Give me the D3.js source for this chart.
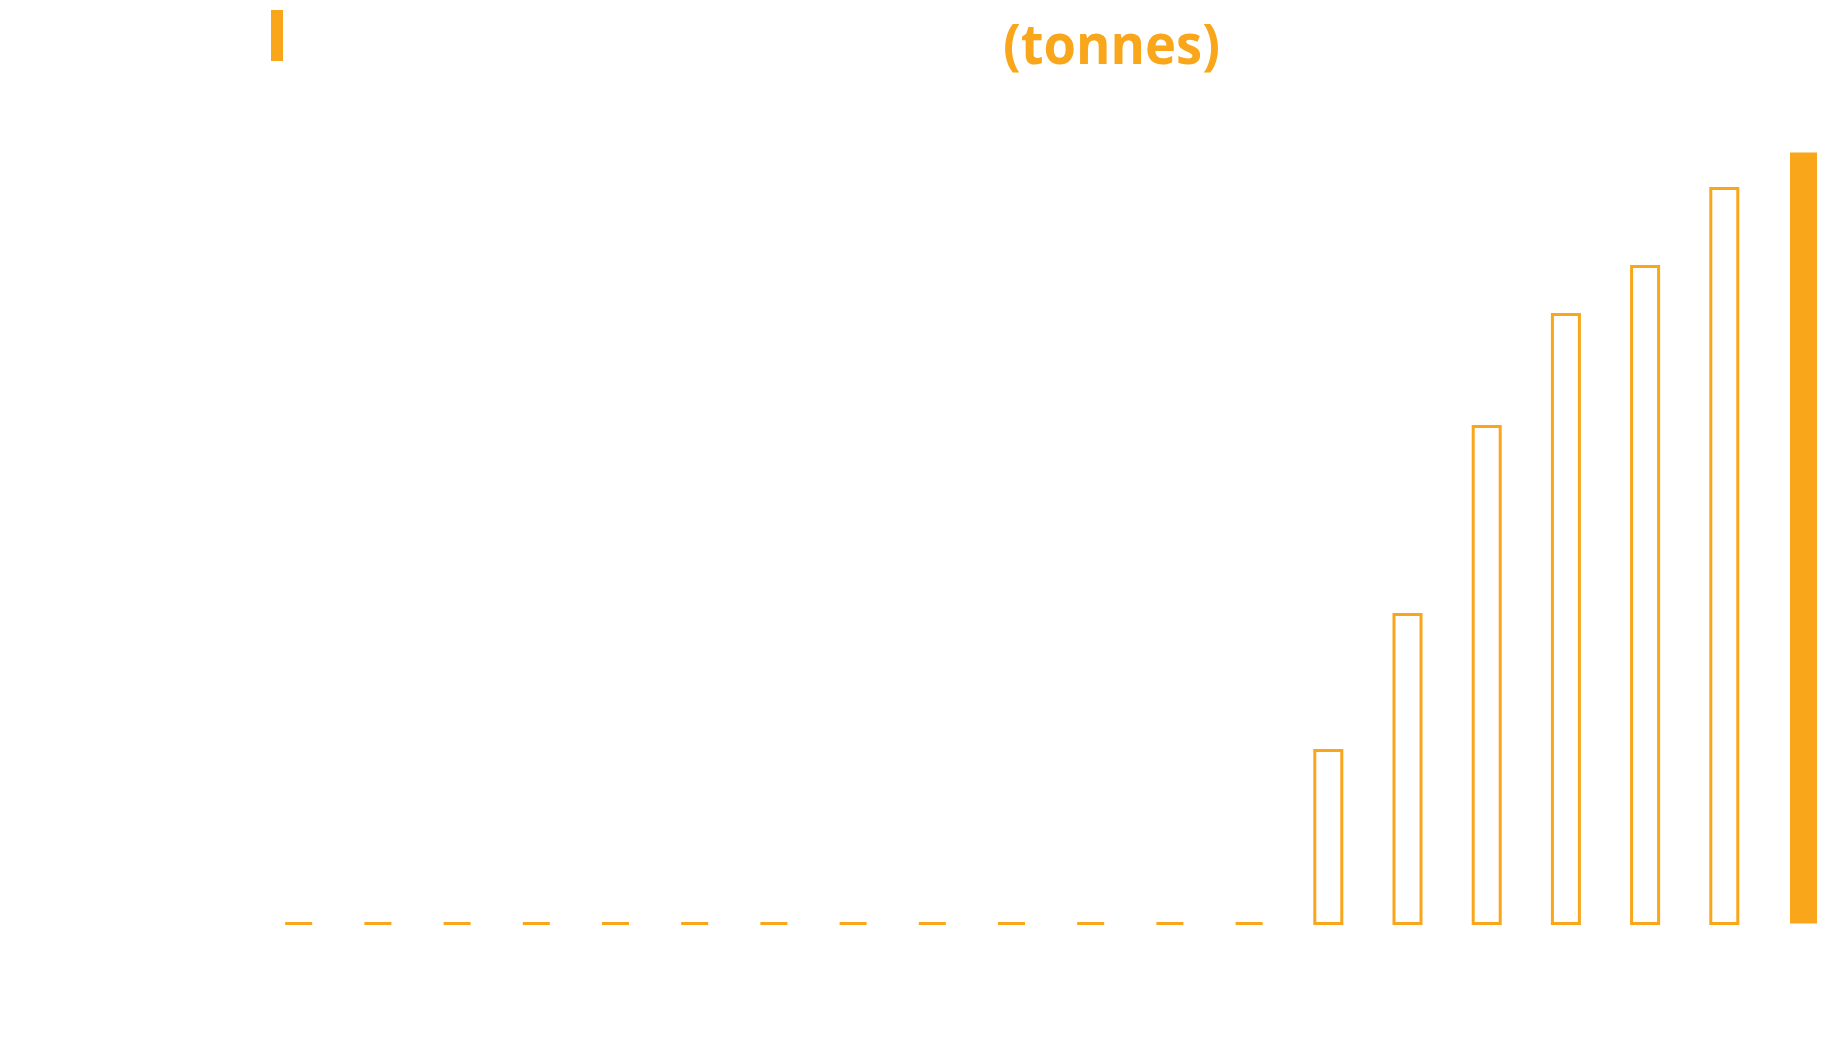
<!DOCTYPE html>
<html>
<head>
<meta charset="utf-8">
<script src="https://cdn.jsdelivr.net/npm/d3@7"></script>
<style>
  html, body { margin: 0; padding: 0; background: #ffffff; }
  svg { display: block; }
</style>
</head>
<body>
<script>
// ---- data ----
const categories = ["1","2","3","4","5","6","7","8","9","10","11","12","13","14","15","16","17","18","19","20"];
const values = [0,0,0,0,0,0,0,0,0,0,0,0,0,17.3,30.9,49.7,60.9,65.7,73.5,77.1];
const highlighted = ["20"];
const titleText = "(tonnes)";

// ---- layout ----
const W = 1845, H = 1047;
const orange = "#F9A61B";
const svg = d3.select("body").append("svg").attr("width", W).attr("height", H);

const x = d3.scalePoint().domain(categories).range([298.7, 1803.5]);
const y = d3.scaleLinear().domain([0, 80]).range([923.5, 123.5]);
const bw = 27;

// title decoration + title
svg.append("rect").attr("x", 271).attr("y", 10).attr("width", 12).attr("height", 51).attr("fill", orange);
svg.append("text")
  .attr("x", 1003).attr("y", 63.5)
  .attr("font-family", "'Open Sans', sans-serif")
  .attr("font-weight", 700)
  .attr("font-size", 56)
  .attr("textLength", 217)
  .attr("lengthAdjust", "spacingAndGlyphs")
  .attr("fill", orange)
  .text(titleText);

const data = categories.map((c, i) => ({ c, v: values[i] }));
const g = svg.append("g");

// zero values: short dashes at the baseline
g.selectAll(".zero").data(data.filter(d => d.v === 0)).join("rect")
  .attr("class", "zero")
  .attr("x", d => x(d.c) - bw / 2)
  .attr("y", y(0) - 1.5)
  .attr("width", bw)
  .attr("height", 3)
  .attr("fill", orange);

// outlined bars
g.selectAll(".outl").data(data.filter(d => d.v > 0 && !highlighted.includes(d.c))).join("rect")
  .attr("class", "outl")
  .attr("x", d => x(d.c) - bw / 2)
  .attr("y", d => y(d.v))
  .attr("width", bw)
  .attr("height", d => y(0) - y(d.v))
  .attr("fill", "none")
  .attr("stroke", orange)
  .attr("stroke-width", 3);

// highlighted (filled) bar
g.selectAll(".fill").data(data.filter(d => highlighted.includes(d.c))).join("rect")
  .attr("class", "fill")
  .attr("x", d => x(d.c) - bw / 2)
  .attr("y", d => y(d.v))
  .attr("width", bw)
  .attr("height", d => y(0) - y(d.v))
  .attr("fill", orange);
</script>
</body>
</html>
